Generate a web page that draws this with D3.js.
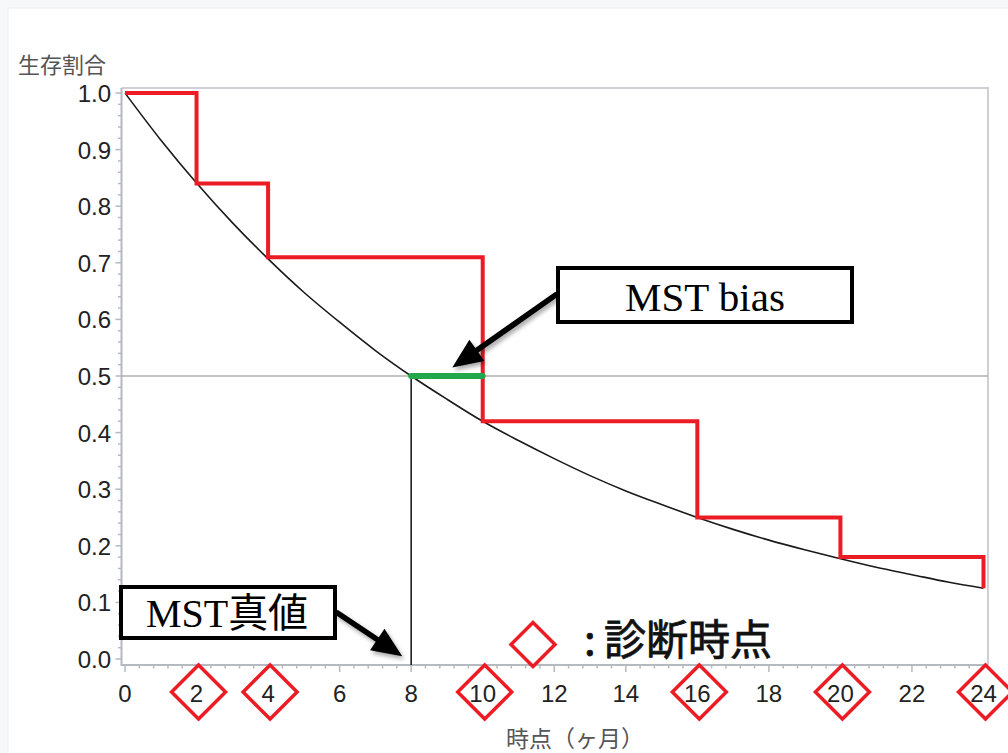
<!DOCTYPE html>
<html>
<head>
<meta charset="utf-8">
<script src="https://cdn.jsdelivr.net/npm/d3@7"></script>
<style>
  body { margin: 0; background: #f7f8fa; }
  svg { display: block; }
</style>
</head>
<body>
<script>
const W = 1008
const H = 753

// survival curve (months, proportion)
const months = [0, 1, 2, 3, 4, 5, 6, 7, 8, 9, 10, 11, 12, 13, 14, 15, 16, 17, 18, 19, 20, 21, 22, 23, 24]
const survival = [1.0, 0.917, 0.841, 0.771, 0.707, 0.648, 0.595, 0.545, 0.5, 0.459, 0.42, 0.386, 0.354, 0.324, 0.297, 0.273, 0.25, 0.229, 0.21, 0.193, 0.177, 0.162, 0.149, 0.136, 0.125]

// diagnosis times and the step estimate
const stepTimes = [0, 2, 4, 10, 16, 20, 24]
const stepValues = [1.0, 0.84, 0.71, 0.42, 0.25, 0.18, 0.125]
const diagTimes = [2, 4, 10, 16, 20, 24]

const xTicks = [0, 2, 4, 6, 8, 10, 12, 14, 16, 18, 20, 22, 24]
const yTicks = [0, 0.1, 0.2, 0.3, 0.4, 0.5, 0.6, 0.7, 0.8, 0.9, 1.0]

const mstTrue = 8
const mstObserved = 10
const medianLevel = 0.5

const red = '#ec1c24'
const green = '#22a84a'

const x = d3.scaleLinear().domain([0, 24]).range([125, 983.5])
const y = d3.scaleLinear().domain([0, 1]).range([659, 93])

const frame = { left: 121.5, right: 988, top: 88, bottom: 665 }

const svg = d3.select('body').append('svg')
  .attr('width', W)
  .attr('height', H)

const defs = svg.append('defs')
defs.append('filter')
  .attr('id', 'shadow')
  .attr('x', '-20%').attr('y', '-20%')
  .attr('width', '150%').attr('height', '150%')
  .append('feDropShadow')
  .attr('dx', 2).attr('dy', 3)
  .attr('stdDeviation', 2)
  .attr('flood-color', '#000')
  .attr('flood-opacity', 0.35)

svg.append('rect')
  .attr('x', 8).attr('y', 8)
  .attr('width', W).attr('height', H)
  .attr('fill', '#fff')
  .attr('stroke', '#eceef2')

// frame: top and right light grey
svg.append('path')
  .attr('d', `M${frame.left},${frame.top}H${frame.right}V${frame.bottom}`)
  .attr('fill', 'none')
  .attr('stroke', '#cdd1d5')
  .attr('stroke-width', 2)

// axes lines
svg.append('path')
  .attr('d', `M${frame.left},${frame.top}V${frame.bottom}H${frame.right}`)
  .attr('fill', 'none')
  .attr('stroke', '#b4babf')
  .attr('stroke-width', 2)

// minor / major ticks
const xMinor = d3.range(0, 24.01, 0.4)
svg.append('g').selectAll('line')
  .data(xMinor)
  .join('line')
  .attr('x1', d => x(d)).attr('x2', d => x(d))
  .attr('y1', frame.bottom)
  .attr('y2', d => frame.bottom + (Math.abs(d / 2 - Math.round(d / 2)) < 0.01 ? 7 : 3.5))
  .attr('stroke', '#b4babf')
  .attr('stroke-width', 1.5)

const yMinor = d3.range(0, 1.001, 0.02)
svg.append('g').selectAll('line')
  .data(yMinor)
  .join('line')
  .attr('y1', d => y(d)).attr('y2', d => y(d))
  .attr('x1', frame.left)
  .attr('x2', d => frame.left - (Math.abs(d * 10 - Math.round(d * 10)) < 0.01 ? 6 : 3.5))
  .attr('stroke', '#b4babf')
  .attr('stroke-width', 1.5)

// reference line at median
svg.append('line')
  .attr('x1', frame.left).attr('x2', frame.right)
  .attr('y1', y(medianLevel)).attr('y2', y(medianLevel))
  .attr('stroke', '#b0b0b0')
  .attr('stroke-width', 1.5)

// true curve
const curveLine = d3.line()
  .x(d => x(d[0]))
  .y(d => y(d[1]))
  .curve(d3.curveMonotoneX)

svg.append('path')
  .attr('d', curveLine(months.map((m, i) => [m, survival[i]])))
  .attr('fill', 'none')
  .attr('stroke', '#1a1a1a')
  .attr('stroke-width', 1.6)

// vertical line at true MST
svg.append('line')
  .attr('x1', x(mstTrue)).attr('x2', x(mstTrue))
  .attr('y1', y(medianLevel)).attr('y2', frame.bottom)
  .attr('stroke', '#111')
  .attr('stroke-width', 1.5)

// step estimate
const stepLine = d3.line()
  .x(d => x(d[0]))
  .y(d => y(d[1]))
  .curve(d3.curveStepAfter)

svg.append('path')
  .attr('d', stepLine(stepTimes.map((t, i) => [t, stepValues[i]])))
  .attr('fill', 'none')
  .attr('stroke', red)
  .attr('stroke-width', 4)

// MST bias segment
svg.append('line')
  .attr('x1', x(mstTrue)).attr('x2', x(mstObserved))
  .attr('y1', y(medianLevel)).attr('y2', y(medianLevel))
  .attr('stroke', green)
  .attr('stroke-width', 6)
  .attr('stroke-linecap', 'round')

// diamonds on x axis
const diamond = (cx, cy, r) => `M${cx},${cy - r}L${cx + r},${cy}L${cx},${cy + r}L${cx - r},${cy}Z`

svg.append('g').selectAll('path')
  .data(diagTimes)
  .join('path')
  .attr('d', d => diamond(x(d) + 2, 692, 27))
  .attr('fill', '#fff')
  .attr('stroke', red)
  .attr('stroke-width', 3.5)

// tick labels
svg.append('g').selectAll('text')
  .data(xTicks)
  .join('text')
  .attr('x', d => x(d))
  .attr('y', 702)
  .attr('text-anchor', 'middle')
  .attr('font-family', 'Liberation Sans, Arial, sans-serif')
  .attr('font-size', 24)
  .attr('fill', '#222')
  .text(d => d)

svg.append('g').selectAll('text')
  .data(yTicks)
  .join('text')
  .attr('x', 111)
  .attr('y', d => y(d) + 9)
  .attr('text-anchor', 'end')
  .attr('font-family', 'Liberation Sans, Arial, sans-serif')
  .attr('font-size', 24)
  .attr('fill', '#222')
  .text(d => d.toFixed(1))

// axis titles
svg.append('text')
  .attr('x', 18).attr('y', 73)
  .attr('font-family', 'Noto Sans CJK JP, sans-serif')
  .attr('font-size', 22)
  .attr('fill', '#555')
  .text('生存割合')

svg.append('text')
  .attr('x', 575).attr('y', 747)
  .attr('text-anchor', 'middle')
  .attr('font-family', 'Noto Sans CJK JP, sans-serif')
  .attr('font-size', 23)
  .attr('fill', '#555')
  .text('時点（ヶ月）')

// legend
svg.append('path')
  .attr('d', diamond(533, 644.5, 22))
  .attr('fill', '#fff')
  .attr('stroke', red)
  .attr('stroke-width', 3.5)

svg.append('text')
  .attr('x', 584).attr('y', 655)
  .attr('font-family', 'Noto Sans CJK JP, sans-serif')
  .attr('font-size', 42)
  .attr('fill', '#111')
  .attr('stroke', '#111')
  .attr('stroke-width', 0.8)
  .text(':\u2009診断時点')

// arrows
const drawArrow = (x1, y1, x2, y2) => {
  const dx = x2 - x1
  const dy = y2 - y1
  const len = Math.hypot(dx, dy)
  const ux = dx / len
  const uy = dy / len
  const px = -uy
  const py = ux
  const headL = 30
  const headW = 13
  const shaftW = 2.8
  const bx = x2 - ux * headL
  const by = y2 - uy * headL
  const pts = [
    [x1 + px * shaftW, y1 + py * shaftW],
    [bx + px * shaftW, by + py * shaftW],
    [bx + px * headW, by + py * headW],
    [x2, y2],
    [bx - px * headW, by - py * headW],
    [bx - px * shaftW, by - py * shaftW],
    [x1 - px * shaftW, y1 - py * shaftW]
  ]
  svg.append('path')
    .attr('d', 'M' + pts.map(p => p.join(',')).join('L') + 'Z')
    .attr('fill', '#000')
    .attr('filter', 'url(#shadow)')
}

drawArrow(557, 294, x(9.15), y(0.515))
drawArrow(336, 612, x(7.75), y(0.005))

// annotation boxes
const box = (x0, y0, w, h) => {
  svg.append('rect')
    .attr('x', x0).attr('y', y0)
    .attr('width', w).attr('height', h)
    .attr('fill', '#fff')
    .attr('stroke', '#000')
    .attr('stroke-width', 4)
}

box(558, 268, 294, 54)
svg.append('text')
  .attr('x', 705).attr('y', 311)
  .attr('text-anchor', 'middle')
  .attr('font-family', 'Liberation Serif, Times New Roman, serif')
  .attr('font-size', 41)
  .attr('fill', '#000')
  .text('MST bias')

box(121, 587, 214, 51)
const t2 = svg.append('text')
  .attr('x', 227).attr('y', 627)
  .attr('text-anchor', 'middle')
  .attr('font-size', 40)
  .attr('fill', '#000')
t2.append('tspan')
  .attr('font-family', 'Liberation Serif, Times New Roman, serif')
  .text('MST')
t2.append('tspan')
  .attr('font-family', 'Noto Sans CJK JP, sans-serif')
  .text('真値')
</script>
</body>
</html>
